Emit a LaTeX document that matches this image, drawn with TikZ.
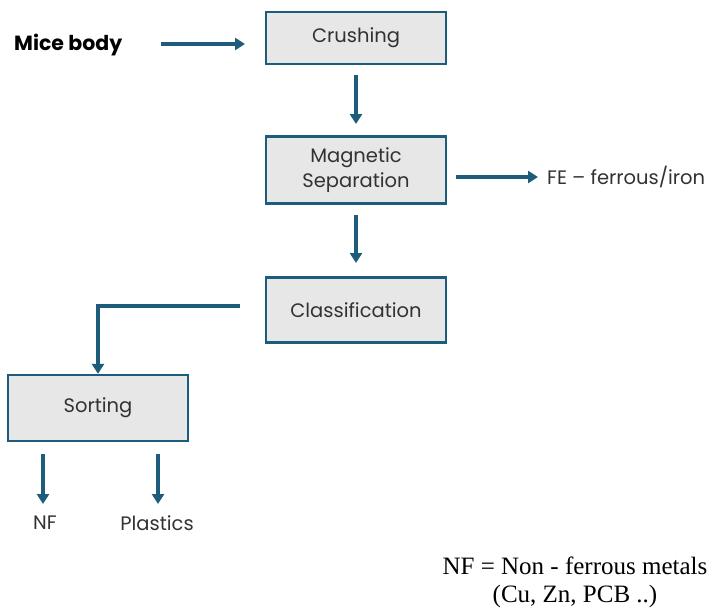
\documentclass[tikz,border=0pt]{standalone}
\usepackage{fontspec}
\setmainfont{Poppins}
\newfontfamily\notefont{Liberation Serif}
\usetikzlibrary{arrows.meta}
\definecolor{flowblue}{RGB}{30,92,124}
\definecolor{boxfill}{RGB}{231,231,231}
\definecolor{labelgray}{RGB}{50,50,50}
\begin{document}
\begin{tikzpicture}[x=1pt,y=-1pt,
  procbox/.style={draw=flowblue, line width=2.3pt, fill=boxfill, minimum width=180pt,
    align=center, text=labelgray, font=\fontsize{19.5}{25}\selectfont, inner sep=0pt},
  flow/.style={draw=flowblue, line width=3.2pt, -{Triangle[length=10pt,width=12pt]}},
  outlabel/.style={text=labelgray, font=\fontsize{19.5}{25}\selectfont, inner sep=0pt}]
\useasboundingbox (0,0) rectangle (711,610);

\node[procbox, minimum height=52pt] (crush) at (356,38) {Crushing};
\node[procbox, minimum height=67pt] (mag) at (356,170) {Magnetic\\Separation};
\node[procbox, minimum height=65pt] (class) at (356,310) {Classification};
\node[procbox, minimum height=66pt] (sort) at (98,408) {Sorting};

\node[font=\bfseries\fontsize{20.5}{25}\selectfont, anchor=west, inner sep=0pt] (mice) at (14,45) {Mice body};
\node[outlabel, anchor=west] (fe) at (547,177) {FE -- ferrous/iron};
\node[outlabel] (nf) at (45,523) {NF};
\node[outlabel] (plast) at (157,523) {Plastics};

\node[font=\notefont\fontsize{25}{28}\selectfont, align=center, inner sep=0pt] (note) at (575,582)
  {NF = Non - ferrous metals\\(Cu, Zn, PCB ..)};

\coordinate (miceA) at (161,44);
\coordinate (miceB) at (245,44);
\draw[flow] (miceA) -- (miceB);

\coordinate (c1) at (356,75);
\coordinate (c2) at (356,124);
\draw[flow] (c1) -- (c2);

\coordinate (m1) at (356,215);
\coordinate (m2) at (356,263);
\draw[flow] (m1) -- (m2);

\coordinate (f1) at (456,177);
\coordinate (f2) at (538,177);
\draw[flow] (f1) -- (f2);

\coordinate (k1) at (240,306);
\draw[flow] (k1) -| (sort.north);

\coordinate (n1) at (43,454);
\coordinate (n2) at (43,504);
\draw[flow] (n1) -- (n2);

\coordinate (p1) at (158,454);
\coordinate (p2) at (158,504);
\draw[flow] (p1) -- (p2);
\end{tikzpicture}
\end{document}
